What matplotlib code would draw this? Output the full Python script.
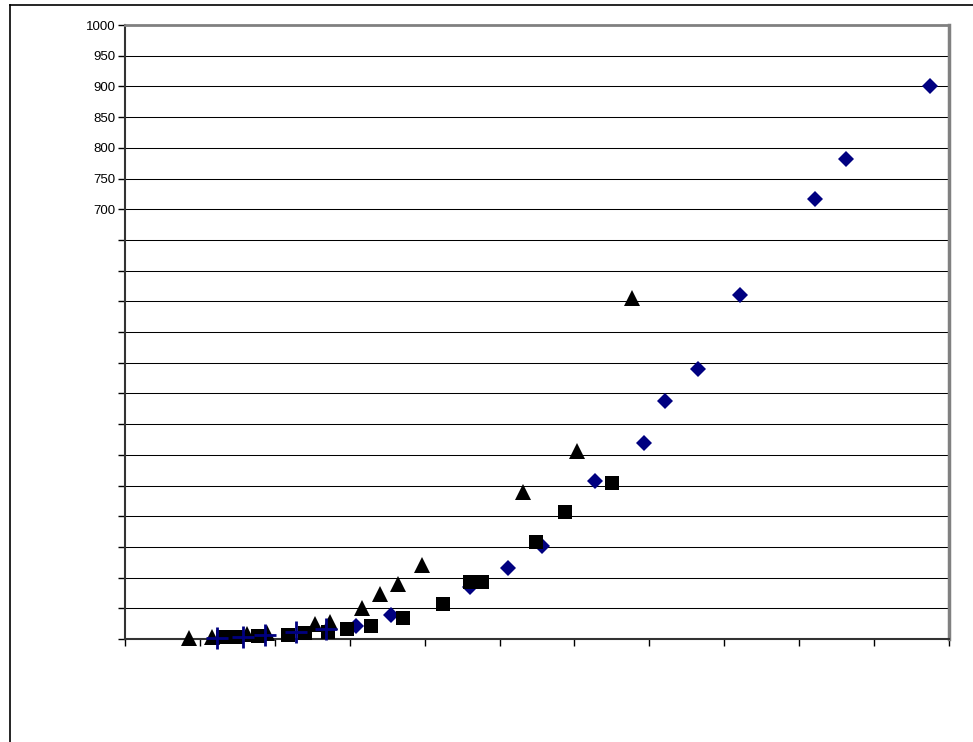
import matplotlib
matplotlib.use('Agg')
import matplotlib.pyplot as plt
from matplotlib.lines import Line2D

# series (x axis has no labels, 0..110 assumed)
diamond_x = [107.5, 96.3, 92.1, 82.1, 76.5, 72.1, 69.3, 62.7, 55.7, 51.1, 46.1, 35.5, 30.8]
diamond_y = [900, 782, 717, 561, 440, 388, 320, 257, 152, 116, 85, 39, 21]

triangle_x = [8.5, 11.6, 16.3, 18.9, 25.3, 27.3, 31.6, 34.1, 36.5, 39.6, 53.1, 60.3, 67.7]
triangle_y = [1, 4, 8, 10, 24, 28, 50, 73, 89, 120, 239, 306, 555]

square_x = [13.1, 14.9, 17.7, 21.7, 24.0, 27.1, 29.6, 32.9, 37.1, 42.4, 46.1, 47.7, 54.8, 58.7, 65.0]
square_y = [3, 3, 5, 7, 9, 12, 16, 21, 34, 57, 93, 93, 158, 207, 254]

plus_x = [12.3, 15.7, 18.7, 22.8, 26.8]
plus_y = [2, 3, 6, 11, 17]

y_ticks = list(range(0, 1001, 50))
y_labels = [str(v) if v >= 700 else '' for v in y_ticks]
x_ticks = list(range(0, 111, 10))

plt.rcParams['font.family'] = ['Liberation Sans', 'DejaVu Sans']

fig = plt.figure(figsize=(9.73, 7.42), dpi=100)
ax = fig.add_axes([125 / 973, 103 / 742, 824 / 973, 614 / 742])

ax.plot(diamond_x, diamond_y, linestyle='none', marker='D', markersize=8.5,
        color='#000080', markeredgewidth=0, zorder=3, clip_on=False)
ax.plot(triangle_x, triangle_y, linestyle='none', marker='^', markersize=12,
        color='black', markeredgewidth=0, zorder=4, clip_on=False)
ax.plot(square_x, square_y, linestyle='none', marker='s', markersize=10.5,
        color='black', markeredgewidth=0, zorder=5, clip_on=False)
ax.plot(plus_x, plus_y, linestyle='none', marker='+', markersize=16,
        color='#000080', markeredgewidth=2, zorder=6, clip_on=False)

ax.set_xlim(0, 110)
ax.set_ylim(0, 1000)
ax.set_yticks(y_ticks)
ax.set_yticklabels(y_labels, fontsize=9.5)
ax.set_xticks(x_ticks)
ax.set_xticklabels([])
ax.tick_params(axis='both', direction='out', length=5, width=1, color='black', pad=2)

ax.grid(axis='y', color='black', linewidth=0.75)
ax.set_axisbelow(True)

ax.spines['top'].set_color('#808080')
ax.spines['right'].set_color('#808080')
ax.spines['top'].set_linewidth(2)
ax.spines['right'].set_linewidth(2.5)
ax.spines['left'].set_color('#333333')
ax.spines['bottom'].set_color('#333333')
ax.spines['left'].set_linewidth(1.5)
ax.spines['bottom'].set_linewidth(1.5)

# outer chart border (runs past the right and bottom edge)
fig.add_artist(Line2D([9.5 / 973, 9.5 / 973], [0, 1 - 5 / 742], color='black', linewidth=1.2))
fig.add_artist(Line2D([9.5 / 973, 1], [1 - 5 / 742, 1 - 5 / 742], color='black', linewidth=1.2))

fig.savefig('out.png', dpi=100)
